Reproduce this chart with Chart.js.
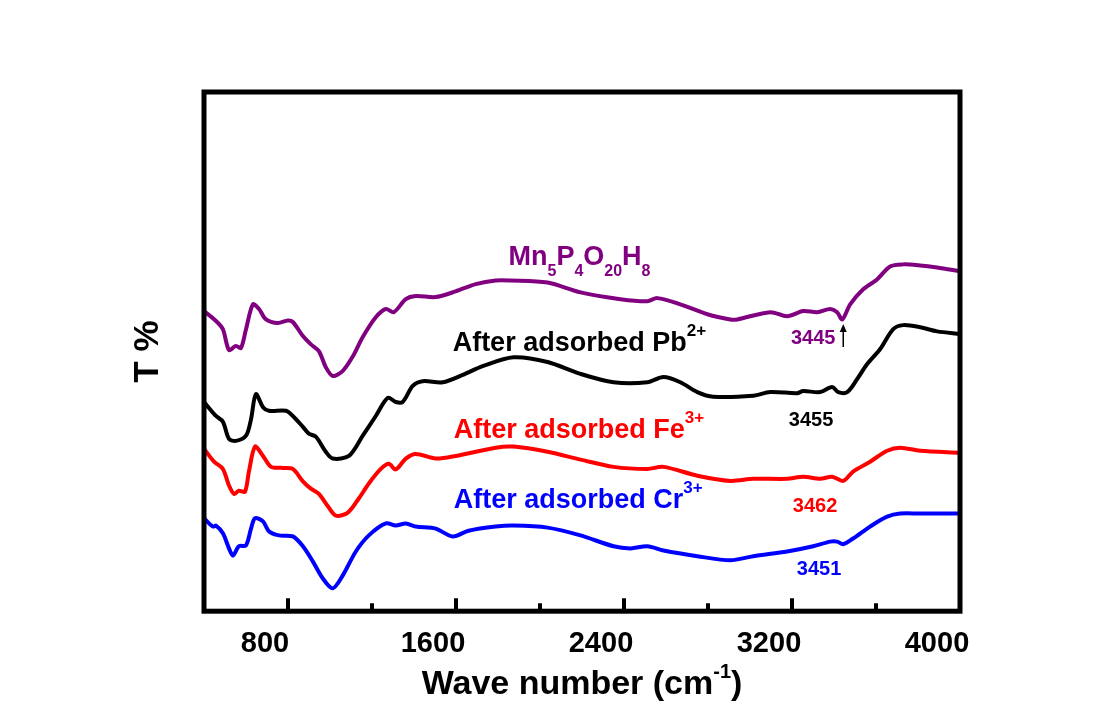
<!DOCTYPE html>
<html>
<head>
<meta charset="utf-8">
<title>FTIR</title>
<script src="https://cdn.jsdelivr.net/npm/chart.js@4.4.1/dist/chart.umd.min.js"></script>
<style>
  html, body { margin: 0; padding: 0; background: #fff; }
  #wrap { width: 1100px; height: 727px; }
</style>
</head>
<body>
<div id="wrap"><canvas id="ftir" width="1100" height="727"></canvas></div>
<script>
const mnWave = [400, 457, 490, 519, 552, 576, 600, 633, 662, 695, 752, 799, 823, 871, 909, 947, 980, 1013, 1061, 1109,
  1156, 1218, 1266, 1304, 1361, 1408, 1503, 1598, 1694, 1789, 1860, 2036, 2193, 2383, 2511, 2559, 2668, 2797, 2906, 2940,
  3096, 3177, 3253, 3320, 3382, 3415, 3439, 3477, 3539, 3605, 3667, 3729, 3810, 3891, 4000];
const mnT = [57.8, 55.9, 54.3, 50.3, 51.1, 50.7, 54.3, 59.1, 58.2, 56.2, 55.5, 56.0, 55.7, 53.0, 51.4, 50.1, 47.0, 45.3, 46.3, 49.1,
  52.8, 56.6, 58.2, 57.6, 60.1, 60.7, 60.5, 61.6, 63.0, 63.7, 63.7, 63.3, 61.4, 60.1, 59.7, 60.3, 59.1, 57.2, 56.2, 56.2,
  57.6, 56.8, 57.8, 57.6, 58.2, 57.6, 56.2, 59.1, 62.0, 63.9, 66.4, 66.8, 66.6, 66.2, 65.5];

const pbWave = [400, 457, 490, 519, 552, 600, 624, 647, 681, 709, 790, 823, 871, 899, 933, 980, 1013, 1090, 1156, 1218,
  1275, 1313, 1346, 1394, 1441, 1537, 1632, 1727, 1874, 2036, 2193, 2350, 2511, 2588, 2668, 2749, 2825, 3016, 3096, 3225,
  3253, 3334, 3391, 3420, 3463, 3510, 3558, 3620, 3681, 3729, 3810, 3891, 4000];
const pbT = [40.3, 37.6, 36.5, 33.2, 32.8, 33.8, 37.0, 41.8, 39.3, 38.6, 38.6, 37.6, 35.5, 34.2, 33.6, 30.7, 29.4, 29.9, 33.8, 37.6,
  41.1, 40.3, 40.3, 43.4, 44.3, 44.1, 45.5, 47.2, 48.9, 48.0, 45.7, 44.1, 44.1, 45.1, 44.1, 42.2, 41.3, 41.5, 42.2, 42.0,
  42.4, 42.2, 43.2, 42.2, 42.2, 44.7, 47.6, 50.5, 54.3, 55.1, 54.7, 53.9, 53.4];

const feWave = [400, 448, 490, 519, 543, 566, 595, 614, 643, 681, 719, 776, 823, 871, 909, 947, 990, 1028, 1085, 1137,
  1185, 1242, 1280, 1313, 1361, 1408, 1503, 1598, 1789, 1874, 2036, 2193, 2350, 2511, 2588, 2749, 2906, 3016, 3177, 3253,
  3334, 3391, 3444, 3491, 3572, 3653, 3715, 3810, 4000];
const feT = [31.3, 28.8, 27.4, 24.2, 22.6, 23.2, 23.0, 26.9, 31.7, 29.9, 27.8, 27.6, 27.4, 25.0, 23.6, 22.6, 20.2, 18.4, 19.0, 21.7,
  24.6, 27.4, 28.4, 27.3, 29.4, 30.3, 29.4, 29.9, 31.5, 31.7, 30.7, 29.2, 27.8, 27.4, 27.8, 26.1, 25.1, 25.5, 25.5, 25.9,
  25.5, 25.9, 25.1, 26.9, 28.8, 30.9, 31.5, 30.9, 30.5];

const crWave = [400, 443, 457, 490, 519, 538, 566, 600, 624, 643, 681, 709, 757, 823, 871, 918, 966, 1013, 1061, 1123,
  1185, 1266, 1313, 1361, 1408, 1503, 1584, 1660, 1789, 1874, 2036, 2193, 2350, 2431, 2511, 2588, 2749, 2906, 3016, 3177,
  3301, 3382, 3415, 3444, 3491, 3572, 3653, 3715, 3810, 4000];
const crT = [17.9, 16.3, 16.5, 15.0, 12.1, 10.7, 12.5, 12.7, 15.9, 17.9, 17.3, 15.4, 14.6, 14.4, 12.5, 9.6, 6.3, 4.4, 6.9, 11.5,
  14.6, 16.9, 16.5, 16.9, 16.3, 15.9, 14.4, 15.5, 16.3, 16.5, 16.1, 14.6, 12.5, 12.1, 12.5, 11.7, 10.6, 9.8, 10.6, 11.5,
  12.5, 13.4, 13.4, 12.9, 14.0, 16.3, 18.2, 18.8, 18.8, 18.8];

// Marcas del eje X
const xTickLabels = [800, 1600, 2400, 3200, 4000];
const xMinorTicks = [1200, 2000, 2800, 3600];

const PURPLE = '#800080';
const FONT = '"Liberation Sans", Arial, sans-serif';

// Etiquetas de cada curva (posición en unidades de datos)
const curveLabels = [
  { parts: [{ t: 'Mn' }, { t: '5', sub: true }, { t: 'P' }, { t: '4', sub: true }, { t: 'O' }, { t: '20', sub: true }, { t: 'H' }, { t: '8', sub: true }],
    x: 1850, y: 66.6, color: PURPLE },
  { parts: [{ t: 'After adsorbed Pb' }, { t: '2+', sup: true }], x: 1584, y: 50.1, color: '#000000' },
  { parts: [{ t: 'After adsorbed Fe' }, { t: '3+', sup: true }], x: 1589, y: 33.4, color: '#ff0000' },
  { parts: [{ t: 'After adsorbed Cr' }, { t: '3+', sup: true }], x: 1589, y: 19.8, color: '#0000ff' }
];
const peakLabels = [
  { text: '3445', x: 3301, y: 51.4, color: PURPLE },
  { text: '3455', x: 3291, y: 35.7, color: '#000000' },
  { text: '3462', x: 3310, y: 19.2, color: '#ff0000' },
  { text: '3451', x: 3329, y: 6.9, color: '#0000ff' }
];

function toPoints(xs, ys) {
  return xs.map((x, i) => ({ x: x, y: ys[i] }));
}

// Texto con subíndices / superíndices
function drawRich(ctx, parts, x, y, color, size) {
  ctx.fillStyle = color;
  ctx.textAlign = 'left';
  ctx.textBaseline = 'alphabetic';
  parts.forEach(p => {
    let fs = size, dy = 0;
    if (p.sub) { fs = 16; dy = 11; }
    if (p.sup) { fs = 17; dy = -15; }
    ctx.font = 'bold ' + fs + 'px ' + FONT;
    ctx.fillText(p.t, x, y + dy);
    x += ctx.measureText(p.t).width;
  });
}

function richWidth(ctx, parts, size, supSize) {
  let w = 0;
  parts.forEach(p => {
    ctx.font = 'bold ' + (p.sup ? supSize : size) + 'px ' + FONT;
    w += ctx.measureText(p.t).width;
  });
  return w;
}

const decorPlugin = {
  id: 'decor',
  afterDatasetsDraw(chart) {
    const ctx = chart.ctx;
    const a = chart.chartArea;
    const xs = chart.scales.x, ys = chart.scales.y;
    ctx.save();

    // marcas hacia adentro
    ctx.strokeStyle = '#000';
    ctx.lineWidth = 4;
    ctx.beginPath();
    xTickLabels.forEach(v => {
      const px = xs.getPixelForValue(v);
      ctx.moveTo(px, a.bottom); ctx.lineTo(px, a.bottom - 13);
    });
    xMinorTicks.forEach(v => {
      const px = xs.getPixelForValue(v);
      ctx.moveTo(px, a.bottom); ctx.lineTo(px, a.bottom - 8);
    });
    ctx.stroke();

    // marco
    ctx.lineWidth = 5;
    ctx.strokeRect(a.left, a.top, a.right - a.left, a.bottom - a.top);

    // etiquetas de curvas
    curveLabels.forEach(l => {
      drawRich(ctx, l.parts, xs.getPixelForValue(l.x), ys.getPixelForValue(l.y), l.color, 27);
    });

    // números de onda
    ctx.font = 'bold 20px ' + FONT;
    ctx.textAlign = 'center';
    ctx.textBaseline = 'alphabetic';
    peakLabels.forEach(l => {
      ctx.fillStyle = l.color;
      ctx.fillText(l.text, xs.getPixelForValue(l.x), ys.getPixelForValue(l.y));
    });

    // flecha en 3445
    const ax = xs.getPixelForValue(3444);
    const y0 = ys.getPixelForValue(50.9), y1 = ys.getPixelForValue(55.3);
    ctx.strokeStyle = '#000';
    ctx.fillStyle = '#000';
    ctx.lineWidth = 1.5;
    ctx.beginPath();
    ctx.moveTo(ax, y0); ctx.lineTo(ax, y1 + 5);
    ctx.stroke();
    ctx.beginPath();
    ctx.moveTo(ax, y1); ctx.lineTo(ax - 3.5, y1 + 8); ctx.lineTo(ax + 3.5, y1 + 8);
    ctx.closePath();
    ctx.fill();

    // título del eje X con superíndice
    const title = [{ t: 'Wave number (cm' }, { t: '-1', sup: true }, { t: ')' }];
    const tw = richWidth(ctx, title, 34, 20);
    let tx = (a.left + a.right) / 2 - tw / 2;
    const ty = a.bottom + 83;
    ctx.fillStyle = '#000';
    ctx.textAlign = 'left';
    title.forEach(p => {
      const fs = p.sup ? 20 : 34;
      ctx.font = 'bold ' + fs + 'px ' + FONT;
      ctx.fillText(p.t, tx, p.sup ? ty - 16 : ty);
      tx += ctx.measureText(p.t).width;
    });

    ctx.restore();
  }
};

window.onload = function() {
  const lineStyle = { borderWidth: 4, pointRadius: 0, tension: 0.3, borderJoinStyle: 'round', borderCapStyle: 'round', fill: false };
  const ctx = document.getElementById('ftir').getContext('2d');
  new Chart(ctx, {
    type: 'line',
    data: {
      datasets: [
        Object.assign({ label: 'Mn5P4O20H8', data: toPoints(mnWave, mnT), borderColor: PURPLE }, lineStyle),
        Object.assign({ label: 'After adsorbed Pb2+', data: toPoints(pbWave, pbT), borderColor: '#000000' }, lineStyle),
        Object.assign({ label: 'After adsorbed Fe3+', data: toPoints(feWave, feT), borderColor: '#ff0000' }, lineStyle),
        Object.assign({ label: 'After adsorbed Cr3+', data: toPoints(crWave, crT), borderColor: '#0000ff' }, lineStyle)
      ]
    },
    options: {
      responsive: false,
      animation: false,
      devicePixelRatio: 1,
      layout: { padding: { left: 127, right: 140, top: 92, bottom: 51 } },
      plugins: { legend: { display: false }, tooltip: { enabled: false } },
      scales: {
        x: {
          type: 'linear',
          min: 400,
          max: 4000,
          grid: { display: false, drawTicks: false },
          border: { display: false },
          afterBuildTicks: axis => { axis.ticks = xTickLabels.map(v => ({ value: v })); },
          ticks: {
            autoSkip: false,
            maxRotation: 0,
            padding: 15,
            labelOffset: -23,
            color: '#000',
            font: { family: FONT, size: 29, weight: 'bold' },
            callback: v => String(v)
          }
        },
        y: {
          min: 0,
          max: 100,
          grid: { display: false, drawTicks: false },
          border: { display: false },
          ticks: { display: false },
          title: {
            display: true,
            text: 'T %',
            color: '#000',
            font: { family: FONT, size: 35, weight: 'bold' },
            padding: { top: 0, bottom: 35 }
          }
        }
      }
    },
    plugins: [decorPlugin]
  });
};
</script>
</body>
</html>
